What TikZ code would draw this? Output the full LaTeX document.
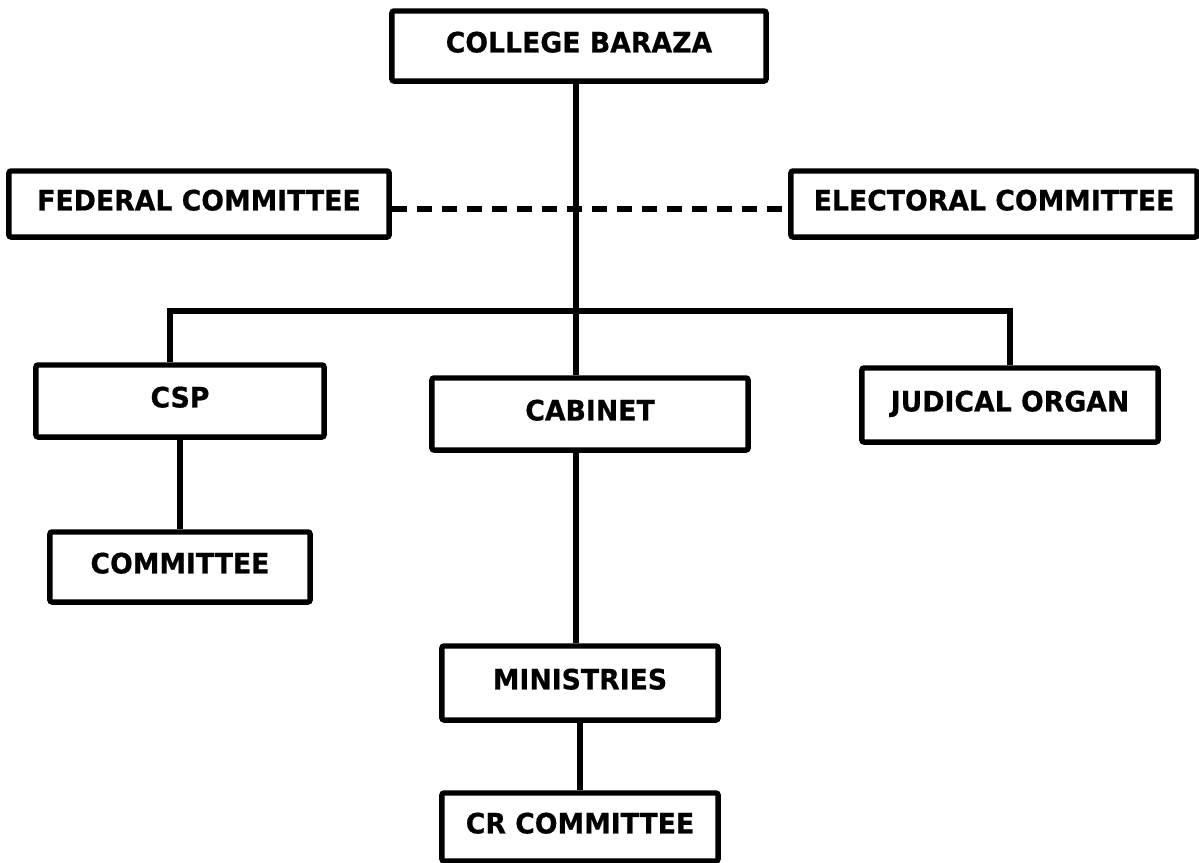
\documentclass[tikz,border=0pt]{standalone}
\usepackage{fontspec}
\setmainfont{DejaVu Sans}[FakeStretch=0.95, BoldFeatures={FakeBold=0.6}]
\tikzset{
  orgbox/.style={draw, line width=3.9pt, rounded corners=1.5pt, inner sep=0pt, text depth=0.2cm,
    font=\fontsize{20}{23}\selectfont\bfseries},
  orgline/.style={line width=3.9pt},
}
\begin{document}
\begin{tikzpicture}[x=0.025cm, y=-0.025cm]
\useasboundingbox (0,0) rectangle (1199,863);

\node[orgbox, minimum width=9.35cm, minimum height=1.75cm] (baraza) at (579,46) {COLLEGE BARAZA};
\node[orgbox, minimum width=9.5cm, minimum height=1.65cm] (federal) at (199,204) {FEDERAL COMMITTEE};
\node[orgbox, minimum width=10.15cm, minimum height=1.65cm] (electoral) at (994,204) {ELECTORAL COMMITTEE};
\node[orgbox, minimum width=7.2cm, minimum height=1.8cm] (csp) at (180,401) {CSP};
\node[orgbox, minimum width=7.9cm, minimum height=1.8cm] (cabinet) at (590,414) {CABINET};
\node[orgbox, minimum width=7.4cm, minimum height=1.85cm] (judical) at (1010,405) {JUDICAL ORGAN};
\node[orgbox, minimum width=6.5cm, minimum height=1.75cm] (committee) at (180,567) {COMMITTEE};
\node[orgbox, minimum width=6.9cm, minimum height=1.85cm] (ministries) at (580,683) {MINISTRIES};
\node[orgbox, minimum width=6.9cm, minimum height=1.7cm] (crcom) at (580,827) {CR COMMITTEE};

\coordinate (trunk) at (576,81);
\coordinate (busl) at (170,311);
\coordinate (busr) at (1010,311);

\draw[orgline] (trunk) -- (trunk |- cabinet.north);
\draw[orgline, dash pattern=on 0.375cm off 0.25cm] ([yshift=-0.12cm]federal.east) -- ([yshift=-0.12cm]electoral.west);
\draw[orgline] (busl |- csp.north) -- (busl) -- (busr) -- (judical.north);
\draw[orgline] (csp.south) -- (committee.north);
\draw[orgline] (trunk |- cabinet.south) -- (trunk |- ministries.north);
\draw[orgline] (ministries.south) -- (crcom.north);

\end{tikzpicture}
\end{document}
